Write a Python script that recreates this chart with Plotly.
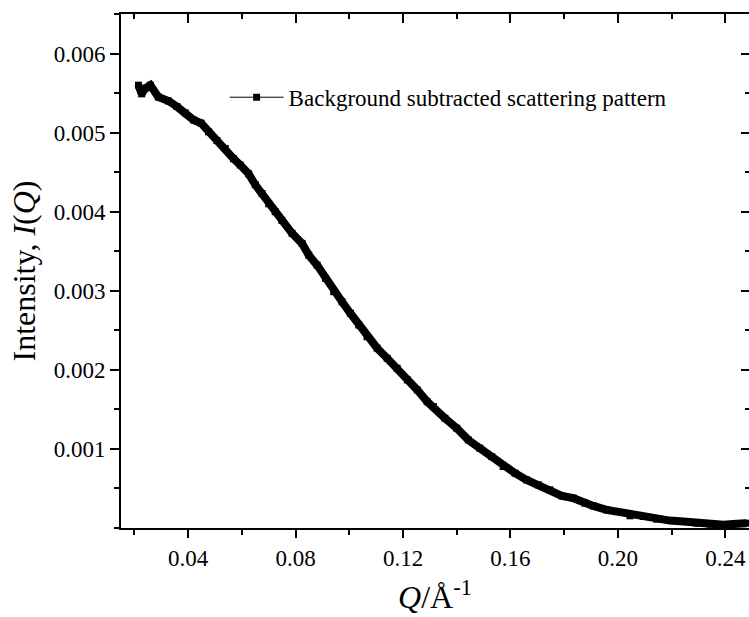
import plotly.graph_objects as go

# Scattering vector Q (1/Å) and background-subtracted intensity I(Q)
q = [0.0215, 0.0227, 0.0240, 0.0259, 0.0289, 0.0327, 0.0358, 0.0389, 0.0420, 0.0448,
     0.0476, 0.0507, 0.0538, 0.0569, 0.0594, 0.0625, 0.0650, 0.0675, 0.0700, 0.0724,
     0.0749, 0.0787, 0.0824, 0.0849, 0.0880, 0.0911, 0.0942, 0.0973, 0.1004, 0.1035,
     0.1066, 0.1104, 0.1141, 0.1178, 0.1216, 0.1253, 0.1290, 0.1313, 0.1356, 0.1400,
     0.1443, 0.1486, 0.1530, 0.1573, 0.1617, 0.1660, 0.1704, 0.1747, 0.1791, 0.1834,
     0.1877, 0.1908, 0.1958, 0.1995, 0.2045, 0.2095, 0.2144, 0.2194, 0.2244, 0.2294,
     0.2343, 0.2393, 0.2442, 0.2479]
intensity = [0.00560, 0.00549, 0.00556, 0.00560, 0.00545, 0.00540, 0.00533, 0.00525, 0.00516, 0.00512,
             0.00501, 0.00490, 0.00480, 0.00467, 0.00459, 0.00448, 0.00434, 0.00423, 0.00410, 0.00400,
             0.00389, 0.003726, 0.003599, 0.003451, 0.003325, 0.003157, 0.002988, 0.002861, 0.002715, 0.002567,
             0.002419, 0.002273, 0.002146, 0.002020, 0.001872, 0.001746, 0.001598, 0.001535, 0.001388, 0.001262,
             0.001114, 0.001009, 0.000903, 0.000777, 0.000693, 0.000608, 0.000545, 0.000482, 0.000406, 0.000377,
             0.000314, 0.000280, 0.000229, 0.000208, 0.000154, 0.000145, 0.000112, 0.000094, 0.000082, 0.000061,
             0.000049, 0.000040, 0.000053, 0.000061]

series_name = "Background subtracted scattering pattern"
y_tickvals = [0.001, 0.002, 0.003, 0.004, 0.005, 0.006]
y_ticktext = ["0.001", "0.002", "0.003", "0.004", "0.005", "0.006"]
x_range = [0.015, 0.2488]
y_range = [0.0, 0.0065]

FONT = "Liberation Serif"
NB = "\u00a0"

fig = go.Figure()
# dense band of points
fig.add_trace(go.Scatter(x=q, y=intensity, mode="lines", line=dict(color="black", width=8),
                         showlegend=False, hoverinfo="skip"))
fig.add_trace(go.Scatter(x=q, y=intensity, mode="lines+markers", name=series_name,
                         line=dict(color="black", width=1),
                         marker=dict(symbol="square", size=7, color="black")))
# helper trace for mirrored (inside-tick) axes
fig.add_trace(go.Scatter(x=[q[0]], y=[intensity[0]], xaxis="x2", yaxis="y2", mode="markers",
                         marker=dict(opacity=0), showlegend=False, hoverinfo="skip"))

axis_common = dict(showgrid=False, zeroline=False, linecolor="black", linewidth=2,
                   tickcolor="black", tickwidth=2)

fig.update_layout(
    width=749, height=617,
    margin=dict(l=121, r=0, t=14, b=89),
    paper_bgcolor="white", plot_bgcolor="white",
    font=dict(family=FONT, color="black", size=22),
    xaxis=dict(range=x_range, tickmode="linear", tick0=0, dtick=0.04, tickformat=".2f",
               ticks="outside", ticklen=8, showline=True,
               minor=dict(ticks="outside", ticklen=5, tickmode="linear", tick0=0, dtick=0.02,
                          tickcolor="black", tickwidth=2),
               tickfont=dict(size=23, family=FONT, color="black"),
               title=dict(text="<i>Q</i>/Å<sup>-1</sup>", font=dict(size=32, family=FONT), standoff=16),
               **axis_common),
    yaxis=dict(range=y_range, tickmode="array", tickvals=y_tickvals, ticktext=y_ticktext,
               ticks="outside", ticklen=9, showline=True,
               minor=dict(ticks="outside", ticklen=5, tickmode="linear", tick0=0, dtick=0.0005,
                          tickcolor="black", tickwidth=2),
               tickfont=dict(size=23, family=FONT, color="black"),
               title=dict(text="Intensity, <i>I</i>(<i>Q</i>)" + NB * 3,
                          font=dict(size=32, family=FONT), standoff=8),
               **axis_common),
    xaxis2=dict(range=x_range, overlaying="x", side="top", tickmode="linear", tick0=0, dtick=0.04,
                ticks="inside", ticklen=9, showticklabels=False, showline=True,
                minor=dict(ticks="inside", ticklen=5, tickmode="linear", tick0=0, dtick=0.02,
                           tickcolor="black", tickwidth=2),
                **axis_common),
    yaxis2=dict(range=y_range, overlaying="y", side="right", tickmode="array", tickvals=y_tickvals,
                ticks="inside", ticklen=8, showticklabels=False, showline=False,
                minor=dict(ticks="inside", ticklen=4, tickmode="linear", tick0=0, dtick=0.0005,
                           tickcolor="black", tickwidth=2),
                **axis_common),
    legend=dict(x=0.165, y=0.838, xanchor="left", yanchor="middle", bgcolor="rgba(0,0,0,0)",
                font=dict(size=23, family=FONT), itemwidth=54),
    showlegend=True,
)

fig.write_html("out.html")
